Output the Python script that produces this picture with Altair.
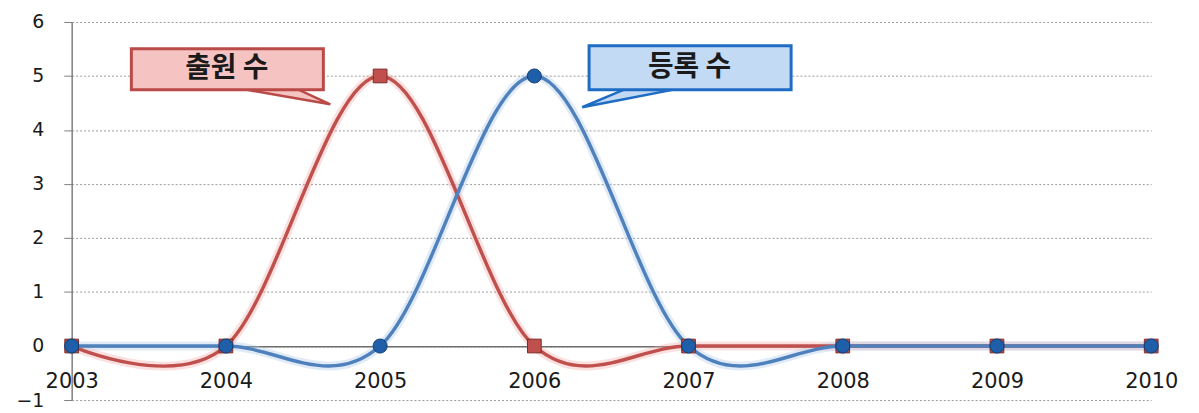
import altair as alt
import pandas as pd

years = [2003, 2004, 2005, 2006, 2007, 2008, 2009, 2010]
applications = [0, 0, 5, 0, 0, 0, 0, 0]   # 출원 수
registrations = [0, 0, 0, 5, 0, 0, 0, 0]  # 등록 수
y_ticks = [-1, 0, 1, 2, 3, 4, 5, 6]

df_app = pd.DataFrame({"year": years, "value": applications})
df_reg = pd.DataFrame({"year": years, "value": registrations})

# callout annotations (in data coordinates)
boxes = pd.DataFrame({
    "x1": [2003.387, 2006.355], "x2": [2004.632, 2007.665],
    "y1": [5.506, 5.561], "y2": [4.747, 4.747],
    "label": ["출원 수", "등록 수"],
    "tx": [2004.006, 2007.006], "ty": [5.125, 5.145],
    "kind": ["app", "reg"],
})
ptr_app = pd.DataFrame({"px": [2004.129, 2004.471, 2004.677],
                        "py": [4.747, 4.747, 4.476],
                        "py2": [4.747, 4.578, 4.476]})
ptr_reg = pd.DataFrame({"px": [2006.31, 2006.581, 2006.903],
                        "py": [4.421, 4.747, 4.747],
                        "py2": [4.421, 4.57, 4.747]})

RED = "#c0504d"
BLUE = "#4f81bd"


def X(field):
    return alt.X(
        f"{field}:Q",
        scale=alt.Scale(domain=[2003, 2010], nice=False, zero=False),
        axis=alt.Axis(values=years, format="d", offset=-54, labelPadding=24,
                      ticks=False, grid=False, domainColor="#6f6f6f", domainWidth=1.5,
                      labelFlush=False, labelOverlap=False, labelFontSize=21,
                      labelFont="DejaVu Sans", labelColor="#1a1a1a", title=None),
    )


def Y(field):
    return alt.Y(
        f"{field}:Q",
        scale=alt.Scale(domain=[-1, 6], nice=False, zero=False),
        axis=alt.Axis(values=y_ticks, grid=True, gridDash=[2, 2], gridColor="#9a9a9a",
                      gridWidth=1, tickSize=8, tickColor="#7f7f7f", domainColor="#7f7f7f",
                      domainWidth=1.5, labelPadding=20, labelFontSize=19,
                      labelFont="DejaVu Sans", labelColor="#1a1a1a", title=None),
    )


def line_layers(df, color, glow):
    g = alt.Chart(df).mark_line(interpolate="cardinal", strokeWidth=9, color=glow,
                                opacity=0.35).encode(x=X("year"), y=Y("value"))
    l = alt.Chart(df).mark_line(interpolate="cardinal", strokeWidth=3.5,
                                color=color).encode(x=X("year"), y=Y("value"))
    return g, l


ga, la = line_layers(df_app, RED, "#f0a8a6")
gr, lr = line_layers(df_reg, BLUE, "#a9c6ec")

pts_app = alt.Chart(df_app).mark_point(shape="square", filled=True, size=190,
                                       color=RED, stroke="#7e2a27", strokeWidth=1,
                                       opacity=1).encode(x=X("year"), y=Y("value"))
pts_reg = alt.Chart(df_reg).mark_point(shape="circle", filled=True, size=200,
                                       color="#1f5ea8", stroke="#123e75", strokeWidth=1,
                                       opacity=1).encode(x=X("year"), y=Y("value"))

p_app = alt.Chart(ptr_app).mark_area(color="#f5c4c2", stroke="#b94a47",
                                     strokeWidth=2.5).encode(x=X("px"), y=Y("py"), y2="py2")
p_reg = alt.Chart(ptr_reg).mark_area(color="#c3daf4", stroke="#1f6cc4",
                                     strokeWidth=2.5).encode(x=X("px"), y=Y("py"), y2="py2")

box_app = alt.Chart(boxes[boxes.kind == "app"]).mark_rect(
    fill="#f5c4c2", stroke="#b94a47", strokeWidth=3).encode(
    x=X("x1"), x2="x2", y=Y("y1"), y2="y2")
box_reg = alt.Chart(boxes[boxes.kind == "reg"]).mark_rect(
    fill="#c3daf4", stroke="#1f6cc4", strokeWidth=3).encode(
    x=X("x1"), x2="x2", y=Y("y1"), y2="y2")

txt = alt.Chart(boxes).mark_text(font="Noto Sans CJK KR", fontWeight="bold",
                                 fontSize=28, color="#1a1a1a").encode(
    x=X("tx"), y=Y("ty"), text="label:N")

chart = alt.layer(
    ga, gr, la, lr, pts_app, pts_reg, p_app, p_reg, box_app, box_reg, txt
).properties(
    width=1085, height=380,
    autosize=alt.AutoSizeParams(type="none"),
    padding={"left": 64, "top": 13, "right": 40, "bottom": 12},
    background="white",
).configure_view(stroke=None)

chart.save("out.html", embed_options={"renderer": "svg", "actions": False})
